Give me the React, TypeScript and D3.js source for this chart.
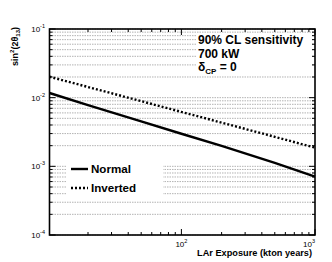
import * as d3 from "d3";

const exposure = [10.3, 20, 50, 100, 200, 500, 1000];
const normal = [0.0117, 0.0078, 0.00452, 0.00298, 0.00199, 0.00112, 0.00071];
const inverted = [0.0202, 0.0143, 0.0089, 0.0062, 0.00433, 0.00269, 0.00187];
const yMajor = [1e-4, 1e-3, 1e-2, 1e-1];
const yMajorLabels = ["-4", "-3", "-2", "-1"];
const xMajor = [100, 1000];
const xMajorLabels = ["2", "3"];

const W = 332;
const H = 262;
const L = 49.5;
const R = 315;
const T = 29;
const B = 235;
const FONT = "'Liberation Sans', Arial, Helvetica, sans-serif";

const App = () => {
  const x = d3.scaleLog().domain([10.3, 1000]).range([L, R]);
  const y = d3.scaleLog().domain([1e-4, 1e-1]).range([B, T]);

  const line = d3
    .line<number>()
    .x((_, i) => x(exposure[i]))
    .y((d) => y(d));

  const yTicks = y.ticks();
  const xTicks = x.ticks().filter((t) => t >= 10.3);
  const isMajor = (t: number) => Math.abs(Math.log10(t) - Math.round(Math.log10(t))) < 1e-6;

  return (
    <svg
      width={W}
      height={H}
      style={{ position: "absolute", left: 0, top: 0, background: "#fff" }}
      fontFamily={FONT}
    >
      <rect x={0} y={0} width={W} height={H} fill="#fff" />
      {/* horizontal grid */}
      {yTicks.map((t, i) => (
        <line
          key={"g" + i}
          x1={L}
          x2={R}
          y1={y(t)}
          y2={y(t)}
          stroke="#a0a0a0"
          strokeWidth={0.8}
          strokeDasharray="1.5,1"
        />
      ))}

      {/* info box and legend cover the grid */}
      <rect x={196} y={33} width={116} height={41} fill="#fff" />
      <rect x={67} y={161} width={96} height={37} fill="#fff" />

      {/* curves */}
      <path d={line(normal) ?? ""} fill="none" stroke="#000" strokeWidth={2.4} />
      <path
        d={line(inverted) ?? ""}
        fill="none"
        stroke="#000"
        strokeWidth={2.4}
        strokeDasharray="2,2"
      />

      {/* y ticks */}
      {yTicks.map((t, i) => {
        const len = isMajor(t) ? 6 : 3;
        return (
          <g key={"yt" + i}>
            <line x1={L} x2={L + len} y1={y(t)} y2={y(t)} stroke="#000" strokeWidth={1} />
            <line x1={R} x2={R - len} y1={y(t)} y2={y(t)} stroke="#000" strokeWidth={1} />
          </g>
        );
      })}
      {/* x ticks */}
      {xTicks.map((t, i) => {
        const len = isMajor(t) ? 6 : 3;
        return (
          <g key={"xt" + i}>
            <line x1={x(t)} x2={x(t)} y1={B} y2={B - len} stroke="#000" strokeWidth={1} />
            <line x1={x(t)} x2={x(t)} y1={T} y2={T + len} stroke="#000" strokeWidth={1} />
          </g>
        );
      })}

      {/* frame */}
      <rect x={L} y={T} width={R - L} height={B - T} fill="none" stroke="#000" strokeWidth={1.6} />

      {/* y tick labels */}
      {yMajor.map((t, i) => (
        <text key={"yl" + i} x={45} y={y(t) + 3} textAnchor="end" fontSize={8}>
          10
          <tspan fontSize={5.5} dy={-4}>
            {yMajorLabels[i]}
          </tspan>
        </text>
      ))}
      {/* x tick labels */}
      {xMajor.map((t, i) => (
        <text
          key={"xl" + i}
          x={i === xMajor.length - 1 ? x(t) - 6 : x(t)}
          y={246.5}
          textAnchor="middle"
          fontSize={8}
        >
          10
          <tspan fontSize={5.5} dy={-4}>
            {xMajorLabels[i]}
          </tspan>
        </text>
      ))}

      {/* axis titles */}
      <text x={312} y={256} textAnchor="end" fontSize={9.2} fontWeight="bold">
        LAr Exposure (kton years)
      </text>
      <text
        transform="translate(18,27) rotate(-90)"
        textAnchor="end"
        fontSize={9}
        fontWeight="bold"
      >
        sin
        <tspan fontSize={6} dy={-4}>
          2
        </tspan>
        <tspan dy={4}>(2θ</tspan>
        <tspan fontSize={6} dy={2}>
          13
        </tspan>
        <tspan dy={-2}>)</tspan>
      </text>

      {/* info text */}
      <g fontSize={12} fontWeight="bold">
        <text x={198} y={44}>
          90% CL sensitivity
        </text>
        <text x={198} y={58}>
          700 kW
        </text>
        <text x={198} y={71}>
          δ
          <tspan fontSize={8} dy={3}>
            CP
          </tspan>
          <tspan dy={-3}> = 0</tspan>
        </text>
      </g>

      {/* legend */}
      <line x1={71} x2={88} y1={169} y2={169} stroke="#000" strokeWidth={2.4} />
      <line x1={71} x2={88} y1={188} y2={188} stroke="#000" strokeWidth={2.4} strokeDasharray="2,2" />
      <g fontSize={11.6} fontWeight="bold">
        <text x={91} y={173}>
          Normal
        </text>
        <text x={91} y={192}>
          Inverted
        </text>
      </g>
    </svg>
  );
};

export default App;
